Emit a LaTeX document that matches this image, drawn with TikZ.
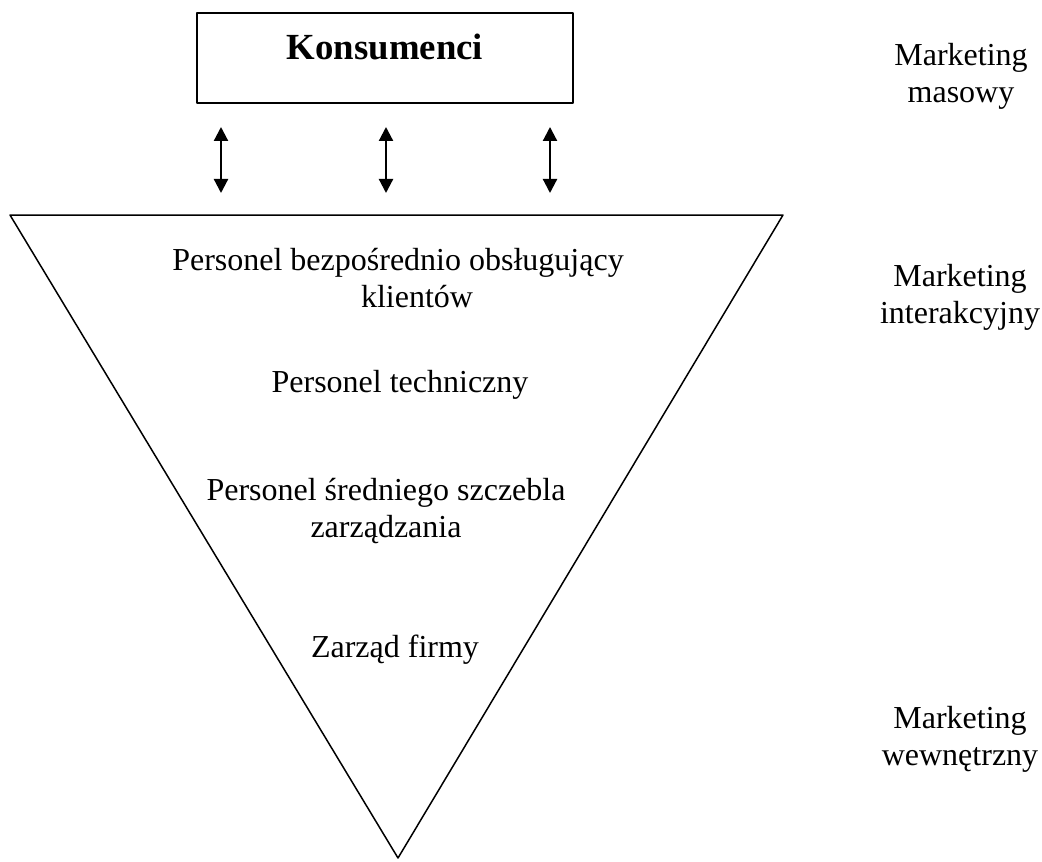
\documentclass[tikz,border=0pt]{standalone}
\usepackage{fontspec}
\setmainfont{Liberation Serif}
\usepackage{tikz}
\usetikzlibrary{arrows.meta}

\tikzset{
    lbl/.style={align=center,font=\fontsize{16}{18.5}\selectfont,inner sep=0pt,anchor=base},
    dwa/.style={{Triangle[length=7pt,width=7pt]}-{Triangle[length=7pt,width=7pt]},line width=1.1pt}
}

\begin{document}
\begin{tikzpicture}[line cap=round,line join=round,x=0.5pt,y=-0.5pt]
                \useasboundingbox (0,0) rectangle (1042,861);
                % konsumenci
                \node[draw,line width=1pt,minimum width=188pt,minimum height=45pt,inner sep=0pt,
                      text height=12pt,text depth=10pt,font=\fontsize{18.4}{20}\selectfont\bfseries]
                      (kons) at (385,58) {Konsumenci};
                % strzalki
                \coordinate (s1g) at (221,127);
                \coordinate (s1d) at (221,193);
                \coordinate (s2g) at (386,127);
                \coordinate (s2d) at (386,193);
                \coordinate (s3g) at (550,127);
                \coordinate (s3d) at (550,193);
                \draw [dwa] (s1g)-- (s1d);
                \draw [dwa] (s2g)-- (s2d);
                \draw [dwa] (s3g)-- (s3d);
                % trojkat
                \coordinate (tl) at (10,215);
                \coordinate (tp) at (783,215);
                \coordinate (td) at (398,858);
                \draw [line width=0.75pt] (tl)-- (tp)-- (td)-- cycle;
                % personel (base = ostatnia linia)
                \node[lbl] (obsl) at (398,307) {Personel bezpośrednio obsługujący\\\hspace*{19pt}klientów};
                \node[lbl] (tech) at (400,392) {Personel techniczny};
                \node[lbl] (sred) at (386,537) {Personel średniego szczebla\\zarządzania};
                \node[lbl] (zarz) at (395,657) {Zarząd firmy};
                % rodzaje marketingu
                \node[lbl] (mmas) at (961,103) {Marketing\\masowy};
                \node[lbl] (mint) at (960,323) {Marketing\\interakcyjny};
                \node[lbl] (mwew) at (960,765) {Marketing\\wewnętrzny};
            \end{tikzpicture}
\end{document}
